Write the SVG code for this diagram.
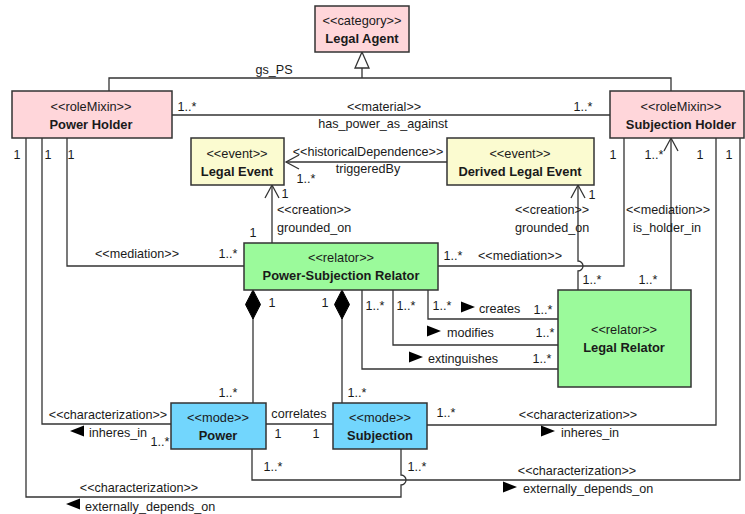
<svg xmlns="http://www.w3.org/2000/svg" xmlns:xlink="http://www.w3.org/1999/xlink" width="745" height="514" viewBox="0 0 745 514">
<style>
text{font-family:"Liberation Sans",Arial,sans-serif;font-size:12.6px;fill:#1a1a1a}
.n{font-size:12.8px;text-anchor:middle}
.b{font-weight:bold;font-size:12.9px;text-anchor:middle}
.m{text-anchor:middle}
.box{stroke:#333;stroke-width:1.5}
.pink{fill:#FFD6DA}
.yel{fill:#FBFBD0}
.grn{fill:#9BFA9B}
.blu{fill:#72D6FD}
.ln{fill:none;stroke:#333;stroke-width:1.3}
</style>
<defs>
<marker id="open" markerUnits="userSpaceOnUse" markerWidth="16" markerHeight="16" refX="14" refY="8" orient="auto">
<path d="M1,1 L14,8 L1,15" fill="none" stroke="#333" stroke-width="1.3"/>
</marker>
<path id="diamond" d="M0,0 L7.5,14.5 L0,29 L-7.5,14.5 Z" fill="#000" stroke="#000" stroke-width="1"/>
<path id="triR" d="M0,-5.5 L14,0 L0,5.5 Z" fill="#000"/>
<path id="triL" d="M14,-5.5 L0,0 L14,5.5 Z" fill="#000"/>
</defs>

<g id="connectors">
<path class="ln" d="M109,91 V78 H671 V91 M362,78 V68"/>
<polygon points="362,52 355,68 369,68" fill="#fff" stroke="#333" stroke-width="1.3"/>
<path class="ln" d="M172,115 H610"/>
<path class="ln" d="M447,162 H286" marker-end="url(#open)"/>
<path class="ln" d="M272,243 V185" marker-end="url(#open)"/>
<path class="ln" d="M67,138 V266 H244"/>
<path class="ln" d="M438,266 H624 V138"/>
<path class="ln" d="M578,290 V271 A5,5 0 0 0 578,261 V185" marker-end="url(#open)"/>
<path class="ln" d="M671,290 V138" marker-end="url(#open)"/>
<path class="ln" d="M428,290 V319 H558"/>
<path class="ln" d="M393,290 V345 H558"/>
<path class="ln" d="M362,290 V369 H558"/>
<path class="ln" d="M253,300 V403"/>
<path class="ln" d="M342,300 V403"/>
<use xlink:href="#diamond" x="253" y="290"/>
<use xlink:href="#diamond" x="342" y="290"/>
<path class="ln" d="M266,424 H333"/>
<path class="ln" d="M171,424 H42 V138"/>
<path class="ln" d="M427,425 H716 V138"/>
<path class="ln" d="M252,449 V480 H740 V138"/>
<path class="ln" d="M401,449 V475 A5,5 0 0 1 401,485 V497 H26 V138"/>

<text x="274" y="74" class="m">gs_PS</text>
<text x="187" y="111" class="m">1..*</text>
<text x="384" y="111" class="m">&lt;&lt;material&gt;&gt;</text>
<text x="383" y="128" class="m">has_power_as_against</text>
<text x="583" y="111" class="m">1..*</text>
<text x="368" y="156" class="m">&lt;&lt;historicalDependence&gt;&gt;</text>
<text x="368" y="173" class="m">triggeredBy</text>
<text x="306" y="183" class="m">1..*</text>
<text x="285" y="198" class="m">1</text>
<text x="277" y="214">&lt;&lt;creation&gt;&gt;</text>
<text x="277" y="232">grounded_on</text>
<text x="253" y="237" class="m">1</text>
<text x="137" y="258" class="m">&lt;&lt;mediation&gt;&gt;</text>
<text x="228" y="258" class="m">1..*</text>
<text x="453" y="260" class="m">1..*</text>
<text x="520" y="260" class="m">&lt;&lt;mediation&gt;&gt;</text>
<text x="613" y="159" class="m">1</text>
<text x="654" y="159" class="m">1..*</text>
<text x="700" y="159" class="m">1</text>
<text x="729" y="159" class="m">1</text>
<text x="515" y="214">&lt;&lt;creation&gt;&gt;</text>
<text x="515" y="232">grounded_on</text>
<text x="592" y="199" class="m">1</text>
<text x="668" y="214" class="m">&lt;&lt;mediation&gt;&gt;</text>
<text x="667" y="232" class="m">is_holder_in</text>
<text x="592" y="284" class="m">1..*</text>
<text x="648" y="284" class="m">1..*</text>
<text x="17" y="159" class="m">1</text>
<text x="48" y="159" class="m">1</text>
<text x="71" y="159" class="m">1</text>
<text x="442" y="310" class="m">1..*</text>
<text x="406" y="310" class="m">1..*</text>
<text x="375" y="310" class="m">1..*</text>
<use xlink:href="#triR" x="461" y="307"/>
<text x="479" y="313">creates</text>
<text x="543" y="314" class="m">1..*</text>
<use xlink:href="#triR" x="427" y="331"/>
<text x="447" y="337">modifies</text>
<text x="545" y="337" class="m">1..*</text>
<use xlink:href="#triR" x="409" y="357"/>
<text x="428" y="363">extinguishes</text>
<text x="542" y="363" class="m">1..*</text>
<text x="272" y="307" class="m">1</text>
<text x="325" y="307" class="m">1</text>
<text x="228" y="397" class="m">1..*</text>
<text x="357" y="397" class="m">1..*</text>
<text x="299" y="418" class="m">correlates</text>
<text x="278" y="438" class="m">1</text>
<text x="316" y="438" class="m">1</text>
<text x="108" y="419" class="m">&lt;&lt;characterization&gt;&gt;</text>
<use xlink:href="#triL" x="70" y="431"/>
<text x="89" y="437">inheres_in</text>
<text x="160" y="446" class="m">1..*</text>
<text x="273" y="471" class="m">1..*</text>
<text x="139" y="492" class="m">&lt;&lt;characterization&gt;&gt;</text>
<use xlink:href="#triL" x="66" y="504"/>
<text x="85" y="511">externally_depends_on</text>
<text x="446" y="417" class="m">1..*</text>
<text x="578" y="419" class="m">&lt;&lt;characterization&gt;&gt;</text>
<use xlink:href="#triR" x="541" y="431"/>
<text x="561" y="437">inheres_in</text>
<text x="417" y="471" class="m">1..*</text>
<text x="577" y="475" class="m">&lt;&lt;characterization&gt;&gt;</text>
<use xlink:href="#triR" x="503" y="487"/>
<text x="523" y="493">externally_depends_on</text>
</g>

<g id="legal-agent">
<rect class="box pink" x="315" y="6" width="94" height="46"/>
<text x="362" y="25" class="n">&lt;&lt;category&gt;&gt;</text>
<text x="362" y="43" class="b">Legal Agent</text>
</g>
<g id="power-holder">
<rect class="box pink" x="12" y="91" width="160" height="47"/>
<text x="91" y="111" class="n">&lt;&lt;roleMixin&gt;&gt;</text>
<text x="91" y="129" class="b">Power Holder</text>
</g>
<g id="subjection-holder">
<rect class="box pink" x="610" y="91" width="134" height="47"/>
<text x="681" y="111" class="n">&lt;&lt;roleMixin&gt;&gt;</text>
<text x="681" y="129" class="b">Subjection Holder</text>
</g>
<g id="legal-event">
<rect class="box yel" x="191" y="138" width="93" height="47"/>
<text x="237" y="158" class="n">&lt;&lt;event&gt;&gt;</text>
<text x="237" y="176" class="b">Legal Event</text>
</g>
<g id="derived-legal-event">
<rect class="box yel" x="447" y="138" width="147" height="47"/>
<text x="520" y="158" class="n">&lt;&lt;event&gt;&gt;</text>
<text x="520" y="176" class="b">Derived Legal Event</text>
</g>
<g id="power-subjection-relator">
<rect class="box grn" x="244" y="243" width="194" height="47"/>
<text x="341" y="262" class="n">&lt;&lt;relator&gt;&gt;</text>
<text x="341" y="280" class="b">Power-Subjection Relator</text>
</g>
<g id="legal-relator">
<rect class="box grn" x="558" y="290" width="133" height="97"/>
<text x="624" y="334" class="n">&lt;&lt;relator&gt;&gt;</text>
<text x="624" y="352" class="b">Legal Relator</text>
</g>
<g id="power">
<rect class="box blu" x="171" y="403" width="95" height="46"/>
<text x="218" y="422" class="n">&lt;&lt;mode&gt;&gt;</text>
<text x="218" y="440" class="b">Power</text>
</g>
<g id="subjection">
<rect class="box blu" x="333" y="403" width="94" height="46"/>
<text x="380" y="422" class="n">&lt;&lt;mode&gt;&gt;</text>
<text x="380" y="440" class="b">Subjection</text>
</g>
</svg>
